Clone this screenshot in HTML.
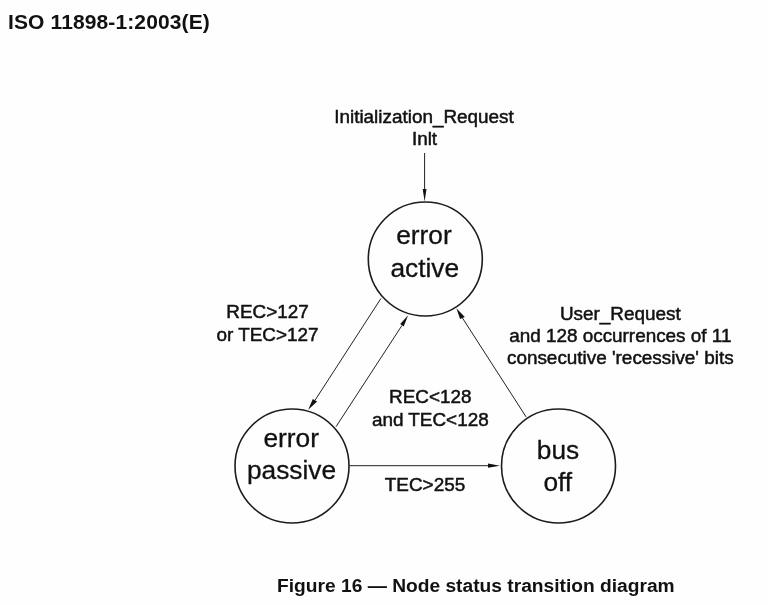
<!DOCTYPE html>
<html><head><meta charset="utf-8">
<style>
html,body{margin:0;padding:0;background:#fefefe;}
body{width:768px;height:605px;overflow:hidden;position:relative;font-family:"Liberation Sans",sans-serif;}
svg{position:absolute;left:0;top:0;will-change:transform;}
text{font-family:"Liberation Sans",sans-serif;fill:#111;}
</style></head><body>
<svg width="768" height="605" viewBox="0 0 768 605" xmlns="http://www.w3.org/2000/svg">
<text x="8" y="28.6" font-size="21" font-weight="bold" letter-spacing="0.12" fill="#0a0a0a">ISO 11898-1:2003(E)</text>

<g font-size="18.9" text-anchor="middle" stroke="#111" stroke-width="0.5">
<text x="424" y="123">Initialization_Request</text>
<text x="424.5" y="145">Inlt</text>
<text x="267.5" y="318">REC&gt;127</text>
<text x="267.5" y="340.7">or TEC&gt;127</text>
<text x="620.3" y="319.7">User_Request</text>
<text x="620.3" y="342.2">and 128 occurrences of 11</text>
<text x="620.3" y="364.4">consecutive 'recessive' bits</text>
<text x="430.3" y="403.2">REC&lt;128</text>
<text x="430.3" y="426">and TEC&lt;128</text>
<text x="425" y="490.5">TEC&gt;255</text>
</g>

<g fill="none" stroke="#1c1c1c" stroke-width="1.6">
<circle cx="425.3" cy="259" r="57"/>
<circle cx="292" cy="466" r="57"/>
<circle cx="558.5" cy="466" r="57"/>
</g>
<g font-size="26.3" text-anchor="middle" stroke="#111" stroke-width="0.3">
<text x="424.0" y="244.2">error</text>
<text x="424.8" y="276.9">active</text>
<text x="291.2" y="447.2">error</text>
<text x="291.5" y="479.3">passive</text>
<text x="558" y="459">bus</text>
<text x="557.8" y="491.4">off</text>
</g>

<g stroke="#222" stroke-width="1" fill="none">
<line x1="424.6" y1="153" x2="424.6" y2="190"/>
<line x1="380.9" y1="298.5" x2="315" y2="400.3"/>
<line x1="336" y1="426.7" x2="402" y2="325.4"/>
<line x1="349.5" y1="465.7" x2="488" y2="465.7"/>
<line x1="526.1" y1="416.9" x2="462.5" y2="318.1"/>
</g>
<g fill="#111">
<polygon points="424.6,201.5 422.7,189 426.5,189"/>
<polygon points="308.2,409.8 312.8,399.1 317.1,401.4"/>
<polygon points="408.1,315.2 400.2,324.1 403.7,326.6"/>
<polygon points="500,465.7 488,463.6 488,467.8"/>
<polygon points="456.4,308.2 460.1,319.1 464.8,317.1"/>
</g>

<text x="277" y="591.7" font-size="19.2" font-weight="bold" fill="#0a0a0a">Figure 16 — Node status transition diagram</text>
</svg>
</body></html>
